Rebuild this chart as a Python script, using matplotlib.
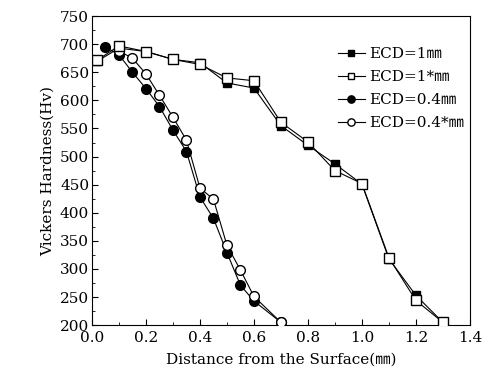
import matplotlib
matplotlib.use('Agg')
import matplotlib.pyplot as plt
from matplotlib.ticker import MultipleLocator, FormatStrFormatter

plt.rcParams['font.family'] = ['DejaVu Serif', 'Noto Sans CJK SC']

# hardness profiles
x_1mm = [0.02, 0.1, 0.2, 0.3, 0.4, 0.5, 0.6, 0.7, 0.8, 0.9, 1.0, 1.1, 1.2, 1.3]
hv_1mm = [670, 693, 687, 673, 667, 631, 622, 555, 520, 487, 451, 318, 253, 205]
hv_1mm_star = [672, 697, 687, 673, 664, 640, 635, 561, 526, 475, 452, 320, 244, 205]

x_04mm = [0.05, 0.1, 0.15, 0.2, 0.25, 0.3, 0.35, 0.4, 0.45, 0.5, 0.55, 0.6, 0.7]
hv_04mm = [695, 681, 650, 621, 589, 547, 509, 428, 390, 329, 271, 243, 205]
x_04mm_star = [0.1, 0.15, 0.2, 0.25, 0.3, 0.35, 0.4, 0.45, 0.5, 0.55, 0.6, 0.7]
hv_04mm_star = [688, 675, 647, 609, 570, 529, 444, 424, 342, 298, 251, 205]

labels = ['ECD=1㎜', 'ECD=1*㎜', 'ECD=0.4㎜', 'ECD=0.4*㎜']

fig = plt.figure(figsize=(4.92, 3.75), dpi=100)
ax = fig.add_axes([0.187, 0.133, 0.768, 0.824])

ax.plot(x_1mm, hv_1mm, '-', color='black', lw=0.8, marker='s', ms=6,
        mfc='black', mec='black', label=labels[0], zorder=2)
ax.plot(x_1mm, hv_1mm_star, '-', color='black', lw=0.8, marker='s', ms=6.5,
        mfc='white', mec='black', mew=1.0, label=labels[1], zorder=4)
ax.plot(x_04mm, hv_04mm, '-', color='black', lw=0.8, marker='o', ms=7,
        mfc='black', mec='black', label=labels[2], zorder=2)
ax.plot(x_04mm_star, hv_04mm_star, '-', color='black', lw=0.8, marker='o', ms=7,
        mfc='white', mec='black', mew=1.0, label=labels[3], zorder=3)

ax.set_xlim(0, 1.4)
ax.set_ylim(200, 750)
ax.xaxis.set_major_locator(MultipleLocator(0.2))
ax.xaxis.set_minor_locator(MultipleLocator(0.1))
ax.yaxis.set_major_locator(MultipleLocator(50))
ax.yaxis.set_minor_locator(MultipleLocator(25))
ax.xaxis.set_major_formatter(FormatStrFormatter('%.1f'))
ax.tick_params(which='both', direction='in', labelsize=11)
ax.tick_params(which='major', length=4)
ax.tick_params(axis='y', pad=2)
ax.tick_params(axis='x', pad=4)
ax.tick_params(which='minor', length=2)

ax.set_xlabel('Distance from the Surface(㎜)', fontsize=11, labelpad=6)
ax.set_ylabel('Vickers Hardness(Hv)', fontsize=11, labelpad=4)

ax.legend(loc='upper right', bbox_to_anchor=(1.01, 0.93), frameon=False,
          fontsize=11, handlelength=1.8, handletextpad=0.3, labelspacing=0.6,
          markerscale=0.75, borderaxespad=0.2)

plt.savefig('out.png', dpi=100)
